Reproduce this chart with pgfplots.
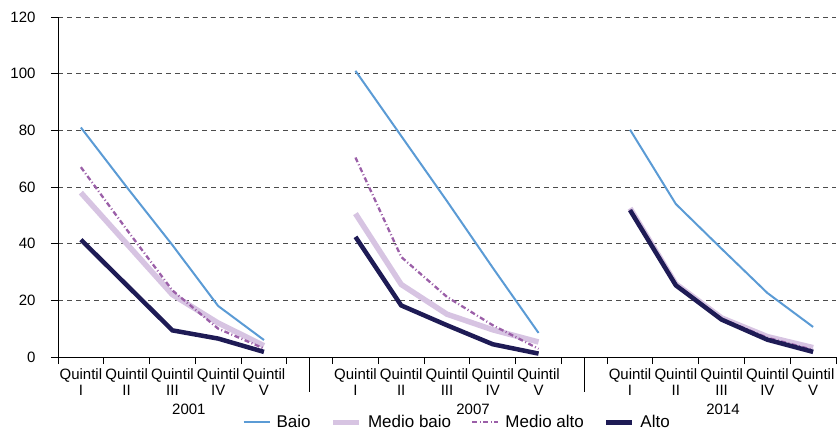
\documentclass[border=0pt]{standalone}
\usepackage{pgfplots}
\pgfplotsset{compat=1.18}
\usepackage{pgfplotstable}
\usepackage{fontspec}
\setmainfont{Liberation Sans}
\definecolor{cBaio}{HTML}{5B9BD5}
\definecolor{cMB}{HTML}{D7C4E2}
\definecolor{cMA}{HTML}{9B5FA8}
\definecolor{cAlto}{HTML}{1E1B55}
\pgfplotstableread{
x baio mbaio malto alto
0 81 58 67 41.4
1 60 40 45 25.4
2 39.5 22 23.5 9.4
3 18 12 10 6.5
4 6 4 3 1.8
5 nan nan nan nan
6 101 50.6 70.4 42.4
7 78 25.6 35.3 18.2
8 55 15.1 21.2 11.2
9 31.5 9.6 11.2 4.5
10 8.5 5.3 2.9 1.2
11 nan nan nan nan
12 80.2 52.5 52 51.8
13 54 25.8 25 25.3
14 38.2 13.8 13.5 13.2
15 22.6 7.2 6.8 6.1
16 10.6 3.3 2.5 1.8
}\datatable
\begin{document}
\begin{tikzpicture}
\useasboundingbox (0,0) rectangle (837pt,431pt);
\begin{axis}[
  at={(58pt,74pt)}, anchor=south west,
  scale only axis, width=778pt, height=340pt,
  xmin=-0.5, xmax=16.5, ymin=0, ymax=120,
  axis x line*=bottom, axis y line*=left,
  axis line style={black, line width=0.9pt},
  clip=false,
  unbounded coords=jump,
  ytick={0,20,...,120},
  ymajorgrids,
  grid style={black!70, dash pattern=on 5pt off 4pt, line width=0.9pt},
  tick align=outside,
  major tick length=7pt,
  tick style={black, line width=0.9pt},
  xtick={-0.5,0.5,...,16.5},
  xticklabels={},
  extra x ticks={0,1,2,3,4,6,7,8,9,10,12,13,14,15,16},
  extra x tick labels={Quintil\\I,Quintil\\II,Quintil\\III,Quintil\\IV,Quintil\\V,Quintil\\I,Quintil\\II,Quintil\\III,Quintil\\IV,Quintil\\V,Quintil\\I,Quintil\\II,Quintil\\III,Quintil\\IV,Quintil\\V},
  extra x tick style={major tick length=0pt, grid=none},
  xticklabel style={align=center, font=\fontsize{15}{16}\selectfont, yshift=-8pt},
  yticklabel style={font=\fontsize{15}{16}\selectfont, xshift=-12pt},
  /pgf/number format/assume math mode=true,
  legend style={at={(0.513,-0.192)}, anchor=center, draw=none, fill=none,
    font=\fontsize{17}{18}\selectfont, legend columns=4,
    /tikz/every odd column/.append style={column sep=4pt},
    /tikz/every even column/.append style={column sep=18pt}},
  legend image code/.code={\draw[#1] (0pt,0pt) -- (26pt,0pt);},
]
\addplot[cBaio, line width=2pt] table[x=x, y=baio] {\datatable};
\addlegendentry{Baio}
\addplot[cMB, line width=5.5pt] table[x=x, y=mbaio] {\datatable};
\addlegendentry{Medio baio}
\addplot[cMA, line width=2.3pt, dash pattern=on 5pt off 2.5pt on 1pt off 2.5pt] table[x=x, y=malto] {\datatable};
\addlegendentry{Medio alto}
\addplot[cAlto, line width=4.5pt] table[x=x, y=alto] {\datatable};
\addlegendentry{Alto}
\draw[black, line width=0.9pt] (axis cs:5,0) -- ([yshift=-35pt]axis cs:5,0);
\draw[black, line width=0.9pt] (axis cs:11,0) -- ([yshift=-35pt]axis cs:11,0);
\node[anchor=base, font=\fontsize{15}{16}\selectfont] at ([yshift=-57pt]axis cs:2.36,0) {2001};
\node[anchor=base, font=\fontsize{15}{16}\selectfont] at ([yshift=-57pt]axis cs:8.57,0) {2007};
\node[anchor=base, font=\fontsize{15}{16}\selectfont] at ([yshift=-57pt]axis cs:14.03,0) {2014};
\end{axis}
\end{tikzpicture}
\end{document}
